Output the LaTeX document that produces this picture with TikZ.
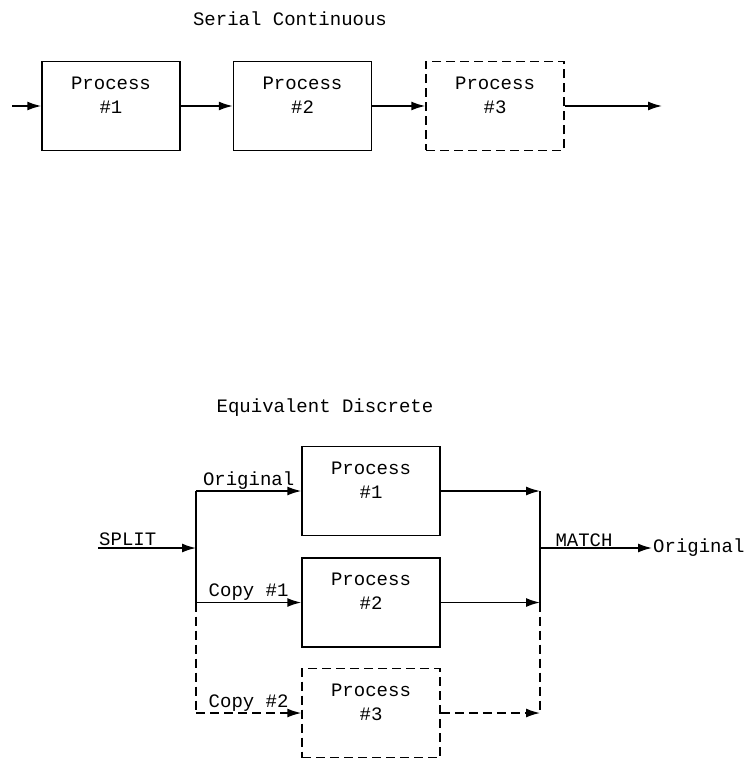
\documentclass[tikz,border=0pt]{standalone}
\usepackage{fontspec}
\setmainfont{Liberation Mono}
\usetikzlibrary{arrows.meta,positioning}

\tikzset{
  proc/.style={draw, line width=1.5pt, minimum width=138pt, minimum height=89pt, inner sep=0pt},
  ghost/.style={dash pattern=on 9pt off 5pt},
  wire/.style={line width=1.5pt},
  flow/.style={wire, -{Latex[length=14pt,width=9pt]}},
  lbl/.style={font=\fontsize{19}{24}\selectfont, inner sep=1pt},
}

\begin{document}
\begin{tikzpicture}[x=1pt, y=-1pt]
  \useasboundingbox (0,0) rectangle (753,759);

  % serial continuous
  \node[lbl] (title1) at (290,19) {Serial Continuous};
  \node[proc] (A) at (111,106) {};
  \node[proc, right=52pt of A] (B) {};
  \node[proc, ghost, right=53pt of B] (C) {};
  \node[lbl, align=center] (tA) at ([yshift=11pt]A.center) {Process\\\#1};
  \node[lbl, align=center] (tB) at ([yshift=11pt]B.center) {Process\\\#2};
  \node[lbl, align=center] (tC) at ([yshift=11pt]C.center) {Process\\\#3};

  \coordinate (in) at (12,106);
  \coordinate (out) at (662,106);
  \draw[flow] (in) -- (A);
  \draw[flow] (A) -- (B);
  \draw[flow] (B) -- (C);
  \draw[flow] (C) -- (out);

  % equivalent discrete
  \node[lbl] (title2) at (325,408) {Equivalent Discrete};
  \node[proc] (P1) at (371,491) {};
  \node[proc, below=21pt of P1] (P2) {};
  \node[proc, ghost, below=20pt of P2] (P3) {};
  \node[lbl, align=center] (t1) at ([yshift=11pt]P1.center) {Process\\\#1};
  \node[lbl, align=center] (t2) at ([yshift=11pt]P2.center) {Process\\\#2};
  \node[lbl, align=center] (t3) at ([yshift=11pt]P3.center) {Process\\\#3};

  \coordinate (sin) at (98,548);
  \coordinate (split) at (196,548);
  \coordinate (merge) at (540,548);
  \node[lbl, anchor=west] (res) at (652,548) {Original};

  \draw[flow] (sin) -- (split);
  \node[lbl, anchor=south west] (splitlbl) at ([yshift=1pt]sin) {SPLIT};
  \draw[wire] (split |- P1.west) -- (split |- P2.west);
  \draw[wire, ghost] (split |- P2.west) -- (split |- P3.west);
  \draw[flow] (split |- P1.west) -- node[lbl, above] {Original} (P1.west);
  \draw[flow] (split |- P2.west) -- node[lbl, above] {Copy \#1} (P2.west);
  \draw[flow, ghost] (split |- P3.west) -- node[lbl, above] {Copy \#2} (P3.west);

  \draw[flow] (P1.east) -- (merge |- P1.east);
  \draw[flow] (P2.east) -- (merge |- P2.east);
  \draw[flow, ghost] (P3.east) -- (merge |- P3.east);
  \draw[wire] (merge |- P1.east) -- (merge |- P2.east);
  \draw[wire, ghost] (merge |- P2.east) -- (merge |- P3.east);
  \draw[flow] (merge) -- node[lbl, above, xshift=-12pt] {MATCH} (res);
\end{tikzpicture}
\end{document}
